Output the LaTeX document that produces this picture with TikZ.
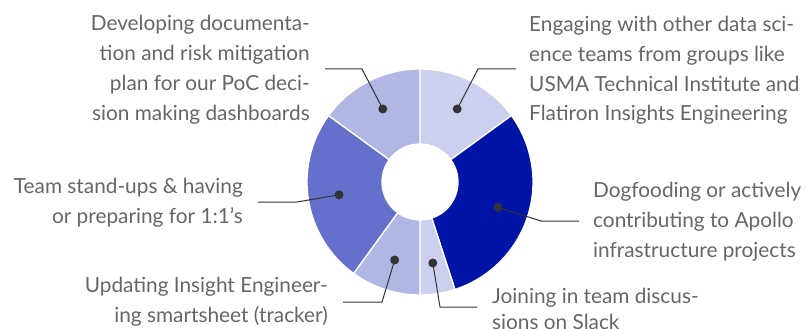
\documentclass[tikz,border=0pt]{standalone}
\usepackage{fontspec}
\setmainfont{Lato}
\definecolor{segA}{HTML}{CCD0EE}
\definecolor{segB}{HTML}{0015A8}
\definecolor{segC}{HTML}{B1B7E4}
\definecolor{segD}{HTML}{6470CC}
\definecolor{txt}{HTML}{666666}
\definecolor{ink}{HTML}{333333}
\tikzset{
  seg/.style={fill=#1, draw=white, line width=1.3pt, line join=miter},
  dotnode/.style={circle, fill=ink, inner sep=0pt, minimum size=9pt},
  leader/.style={draw=ink, line width=1pt},
  lbl/.style={text=txt, inner sep=0pt, font=\fontsize{20.8}{29.7}\selectfont},
  lblR/.style={lbl, align=right, anchor=base east},
  lblL/.style={lbl, align=left, anchor=base west},
}
\begin{document}
\begin{tikzpicture}[x=1pt,y=-1pt]
\useasboundingbox (0,0) rectangle (806,329);
\begin{scope}[shift={(420,182)}]
  \newcommand\annseg[3]{\filldraw[seg=#3] (#1:113) arc[start angle=#1, end angle=#2, radius=113] -- (#2:38) arc[start angle=#2, end angle=#1, radius=38] -- cycle;}
  \annseg{-90}{-36}{segA}
  \annseg{-36}{72}{segB}
  \annseg{72}{90}{segA}
  \annseg{90}{126}{segC}
  \annseg{126}{216}{segD}
  \annseg{216}{270}{segC}
  \coordinate (dDev) at (243:82);
  \coordinate (dEng) at (-63:82);
  \coordinate (dTeam) at (171:82);
  \coordinate (dDog) at (18:82);
  \coordinate (dUpd) at (108:82);
  \coordinate (dJoin) at (81:82);
\end{scope}
% leader coordinates
\coordinate (eDev) at (362,69);   \coordinate (fDev) at (325,69);
\coordinate (eEng) at (478,69);   \coordinate (fEng) at (516,69);
\coordinate (eTeam) at (297,202); \coordinate (fTeam) at (258,202);
\coordinate (eDog) at (541,221);  \coordinate (fDog) at (579,221);
\coordinate (eUpd) at (382,302);  \coordinate (fUpd) at (343,302);
\coordinate (eJoin) at (440,307); \coordinate (fJoin) at (477,307);
\draw[leader] (dDev) -- (eDev) -- (fDev);
\draw[leader] (dEng) -- (eEng) -- (fEng);
\draw[leader] (dTeam) -- (eTeam) -- (fTeam);
\draw[leader] (dDog) -- (eDog) -- (fDog);
\draw[leader] (dUpd) -- (eUpd) -- (fUpd);
\draw[leader] (dJoin) -- (eJoin) -- (fJoin);
\node[dotnode] (nDev) at (dDev) {};
\node[dotnode] (nEng) at (dEng) {};
\node[dotnode] (nTeam) at (dTeam) {};
\node[dotnode] (nDog) at (dDog) {};
\node[dotnode] (nUpd) at (dUpd) {};
\node[dotnode] (nJoin) at (dJoin) {};
% labels (anchored at the baseline of the last line)
\node[lblR] (tDev) at (310,120) {Developing documenta-\\tion and risk mitigation\\plan for our PoC deci-\\sion making dashboards};
\node[lblL] (tEng) at (529,121) {Engaging with other data sci-\\ence teams from groups like\\USMA Technical Institute and\\Flatiron Insights Engineering};
\node[lblR] (tTeam) at (243,223) {Team stand-ups \& having\\or preparing for 1:1’s};
\node[lblL] (tDog) at (593,257) {Dogfooding or actively\\contributing to Apollo\\infrastructure projects};
\node[lblR] (tUpd) at (328,322) {Updating Insight Engineer-\\ing smartsheet (tracker)};
\node[lblL, font=\fontsize{20.8}{26}\selectfont] (tJoin) at (492,329) {Joining in team discus-\\sions on Slack};
\end{tikzpicture}
\end{document}
